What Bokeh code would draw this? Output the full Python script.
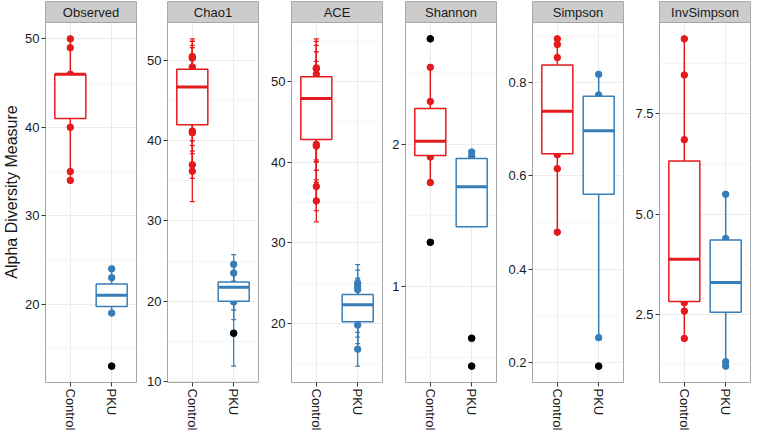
import math
from bokeh.plotting import figure
from bokeh.layouts import row
from bokeh.models import Range1d, FixedTicker
from bokeh.core.properties import value
from bokeh.embed import file_html
from bokeh.resources import INLINE

FONT = "Liberation Sans"

groups = ["Control", "PKU"]
group_x = [1, 2]
group_colors = ["#E41A1C", "#377EB8"]
measures = ["Observed", "Chao1", "ACE", "Shannon", "Simpson", "InvSimpson"]

# box stats order: lower whisker, Q1, median, Q3, upper whisker
observed_control_points = [50, 49, 46, 40, 35, 34]
observed_control_box = [34, 41, 46, 46, 50]
observed_control_outliers = []
observed_pku_points = [24, 23, 19, 13]
observed_pku_box = [19, 19.75, 21, 22.3, 24]
observed_pku_outliers = [13]

chao1_control_points = [50.5, 50.3, 49.2, 47.0, 41.2, 41.0, 37.0, 36.2]
chao1_control_se = [2.2, 2.1, 2.7, 4.6, 1.8, 2.6, 1.7, 3.8]
chao1_control_box = [36.2, 42.0, 46.7, 48.9, 50.5]
chao1_control_outliers = []
chao1_pku_points = [24.6, 23.5, 21.0, 19.9, 16.0]
chao1_pku_se = [1.2, 1.0, 3.3, 1.0, 4.1]
chao1_pku_box = [19.9, 20.0, 21.75, 22.4, 24.6]
chao1_pku_outliers = [16.0]

ace_control_points = [51.7, 51.6, 50.9, 47.0, 45.0, 42.2, 42.0, 37.0, 35.2]
ace_control_se = [3.6, 3.4, 3.6, 6.7, 7.5, 2.1, 3.0, 3.0, 2.6]
ace_control_box = [35.2, 42.8, 47.9, 50.6, 51.7]
ace_control_outliers = []
ace_pku_points = [25.0, 24.6, 24.2, 21.5, 19.8, 16.8]
ace_pku_se = [2.3, 2.0, 1.4, 4.0, 1.5, 2.1]
ace_pku_box = [16.8, 20.2, 22.3, 23.6, 25.0]
ace_pku_outliers = []

shannon_control_points = [2.74, 2.54, 2.30, 1.91, 1.73, 1.31]
shannon_control_box = [1.73, 1.92, 2.02, 2.25, 2.54]
shannon_control_outliers = [2.74, 1.31]
shannon_pku_points = [1.945, 1.915, 0.636, 0.44]
shannon_pku_box = [1.42, 1.42, 1.70, 1.90, 1.945]
shannon_pku_outliers = [0.636, 0.44]

simpson_control_points = [0.893, 0.881, 0.853, 0.645, 0.615, 0.479]
simpson_control_box = [0.479, 0.647, 0.738, 0.837, 0.893]
simpson_control_outliers = []
simpson_pku_points = [0.817, 0.773, 0.253, 0.192]
simpson_pku_box = [0.253, 0.560, 0.696, 0.770, 0.817]
simpson_pku_outliers = [0.192]

invsimpson_control_points = [9.37, 8.47, 6.86, 2.80, 2.59, 1.91]
invsimpson_control_box = [1.91, 2.83, 3.88, 6.33, 9.37]
invsimpson_control_outliers = []
invsimpson_pku_points = [5.50, 4.40, 1.33, 1.22]
invsimpson_pku_box = [1.22, 2.56, 3.30, 4.36, 5.50]
invsimpson_pku_outliers = []

observed_ticks = [20, 30, 40, 50]
observed_tick_labels = ["20", "30", "40", "50"]
observed_minor = [15, 25, 35, 45]
chao1_ticks = [10, 20, 30, 40, 50]
chao1_tick_labels = ["10", "20", "30", "40", "50"]
chao1_minor = [15, 25, 35, 45]
ace_ticks = [20, 30, 40, 50]
ace_tick_labels = ["20", "30", "40", "50"]
ace_minor = [15, 25, 35, 45, 55]
shannon_ticks = [1, 2]
shannon_tick_labels = ["1", "2"]
shannon_minor = [0.5, 1.5, 2.5]
simpson_ticks = [0.2, 0.4, 0.6, 0.8]
simpson_tick_labels = ["0.2", "0.4", "0.6", "0.8"]
simpson_minor = [0.3, 0.5, 0.7, 0.9]
invsimpson_ticks = [2.5, 5.0, 7.5]
invsimpson_tick_labels = ["2.5", "5.0", "7.5"]
invsimpson_minor = [1.25, 3.75, 6.25, 8.75]

STRIP_H = 21
PANEL_H = 360
FRAME_W = 91
BOX_HALF = 0.375
CAP_HALF = 0.06


def make_panel(title, ctrl, pku, ticks, tick_labels, minor, left_border, ylabel=None):
    series = [ctrl, pku]
    vals = []
    for s in series:
        vals += list(s["points"]) + list(s["outliers"]) + list(s["box"])
        if s.get("se"):
            vals += [v - e for v, e in zip(s["points"], s["se"])]
            vals += [v + e for v, e in zip(s["points"], s["se"])]
    lo, hi = min(vals), max(vals)
    span = hi - lo
    ylo = lo - 0.05 * span
    yhi = hi + 0.05 * span
    ytop = yhi + (yhi - ylo) * STRIP_H / PANEL_H

    p = figure(frame_width=FRAME_W, frame_height=STRIP_H + PANEL_H,
               x_range=Range1d(0.4, 2.6), y_range=Range1d(ylo, ytop),
               output_backend="svg", toolbar_location=None,
               min_border_left=left_border, min_border_right=1,
               min_border_top=1, min_border_bottom=48)
    p.background_fill_color = "white"
    p.border_fill_color = "white"
    p.outline_line_color = "#a6a6a6"
    p.outline_line_width = 1

    yt = FixedTicker(ticks=ticks, minor_ticks=minor)
    xt = FixedTicker(ticks=group_x, minor_ticks=[])
    p.yaxis.ticker = yt
    p.ygrid.ticker = yt
    p.xaxis.ticker = xt
    p.xgrid.ticker = xt
    p.yaxis.major_label_overrides = {t: l for t, l in zip(ticks, tick_labels)}
    p.xaxis.major_label_overrides = {x: g for x, g in zip(group_x, groups)}
    p.xaxis.major_label_orientation = -math.pi / 2
    for ax in (p.xaxis, p.yaxis):
        ax.axis_line_color = None
        ax.major_tick_line_color = "#333333"
        ax.major_tick_in = 0
        ax.major_tick_out = 4
        ax.minor_tick_line_color = None
        ax.major_label_text_font = FONT
        ax.major_label_text_font_size = "13px"
        ax.major_label_text_color = "#1a1a1a"
        ax.major_label_standoff = 2
    p.ygrid.grid_line_color = "#ebebeb"
    p.ygrid.minor_grid_line_color = "#f5f5f5"
    p.xgrid.grid_line_color = "#ebebeb"
    if ylabel:
        p.yaxis.axis_label = ylabel
        p.yaxis.axis_label_text_font = FONT
        p.yaxis.axis_label_text_font_size = "16px"
        p.yaxis.axis_label_text_font_style = "normal"
        p.yaxis.axis_label_text_color = "#1a1a1a"
        p.yaxis.axis_label_standoff = 2

    for x, s, col in zip(group_x, series, group_colors):
        pts = s["points"]
        xs = [x] * len(pts)
        p.scatter(xs, pts, size=6.5, color=col)
        if s.get("se"):
            low = [v - e for v, e in zip(pts, s["se"])]
            up = [v + e for v, e in zip(pts, s["se"])]
            p.segment(x0=xs, x1=xs, y0=low, y1=up, color=col, line_width=1.3)
            p.segment(x0=[x - CAP_HALF] * len(pts), x1=[x + CAP_HALF] * len(pts),
                      y0=low, y1=low, color=col, line_width=1.3)
            p.segment(x0=[x - CAP_HALF] * len(pts), x1=[x + CAP_HALF] * len(pts),
                      y0=up, y1=up, color=col, line_width=1.3)
        wl, q1, med, q3, wh = s["box"]
        p.segment(x0=[x, x], x1=[x, x], y0=[wl, q3], y1=[q1, wh], color=col, line_width=1.5)
        p.quad(left=[x - BOX_HALF], right=[x + BOX_HALF], bottom=[q1], top=[q3],
               fill_color="white", line_color=col, line_width=1.5)
        p.segment(x0=[x - BOX_HALF], x1=[x + BOX_HALF], y0=[med], y1=[med],
                  color=col, line_width=3)
        if s["outliers"]:
            p.scatter([x] * len(s["outliers"]), s["outliers"], size=6.5, color="black")

    # facet strip
    p.quad(left=[0.4], right=[2.6], bottom=[yhi], top=[ytop],
           fill_color="#cccccc", line_color="#a6a6a6", line_width=1)
    p.text(x=[1.5], y=[(yhi + ytop) / 2], text=[title],
           text_font=value(FONT), text_font_size=value("13px"),
           text_color="#1a1a1a", text_align="center", text_baseline="middle")
    return p


panels = [
    make_panel("Observed",
               dict(points=observed_control_points, box=observed_control_box, outliers=observed_control_outliers),
               dict(points=observed_pku_points, box=observed_pku_box, outliers=observed_pku_outliers),
               observed_ticks, observed_tick_labels, observed_minor, 41, "Alpha Diversity Measure"),
    make_panel("Chao1",
               dict(points=chao1_control_points, se=chao1_control_se, box=chao1_control_box, outliers=chao1_control_outliers),
               dict(points=chao1_pku_points, se=chao1_pku_se, box=chao1_pku_box, outliers=chao1_pku_outliers),
               chao1_ticks, chao1_tick_labels, chao1_minor, 30),
    make_panel("ACE",
               dict(points=ace_control_points, se=ace_control_se, box=ace_control_box, outliers=ace_control_outliers),
               dict(points=ace_pku_points, se=ace_pku_se, box=ace_pku_box, outliers=ace_pku_outliers),
               ace_ticks, ace_tick_labels, ace_minor, 32),
    make_panel("Shannon",
               dict(points=shannon_control_points, box=shannon_control_box, outliers=shannon_control_outliers),
               dict(points=shannon_pku_points, box=shannon_pku_box, outliers=shannon_pku_outliers),
               shannon_ticks, shannon_tick_labels, shannon_minor, 22),
    make_panel("Simpson",
               dict(points=simpson_control_points, box=simpson_control_box, outliers=simpson_control_outliers),
               dict(points=simpson_pku_points, box=simpson_pku_box, outliers=simpson_pku_outliers),
               simpson_ticks, simpson_tick_labels, simpson_minor, 35),
    make_panel("InvSimpson",
               dict(points=invsimpson_control_points, box=invsimpson_control_box, outliers=invsimpson_control_outliers),
               dict(points=invsimpson_pku_points, box=invsimpson_pku_box, outliers=invsimpson_pku_outliers),
               invsimpson_ticks, invsimpson_tick_labels, invsimpson_minor, 35),
]

layout = row(*panels)
open("out.html", "w").write(file_html(layout, INLINE))
